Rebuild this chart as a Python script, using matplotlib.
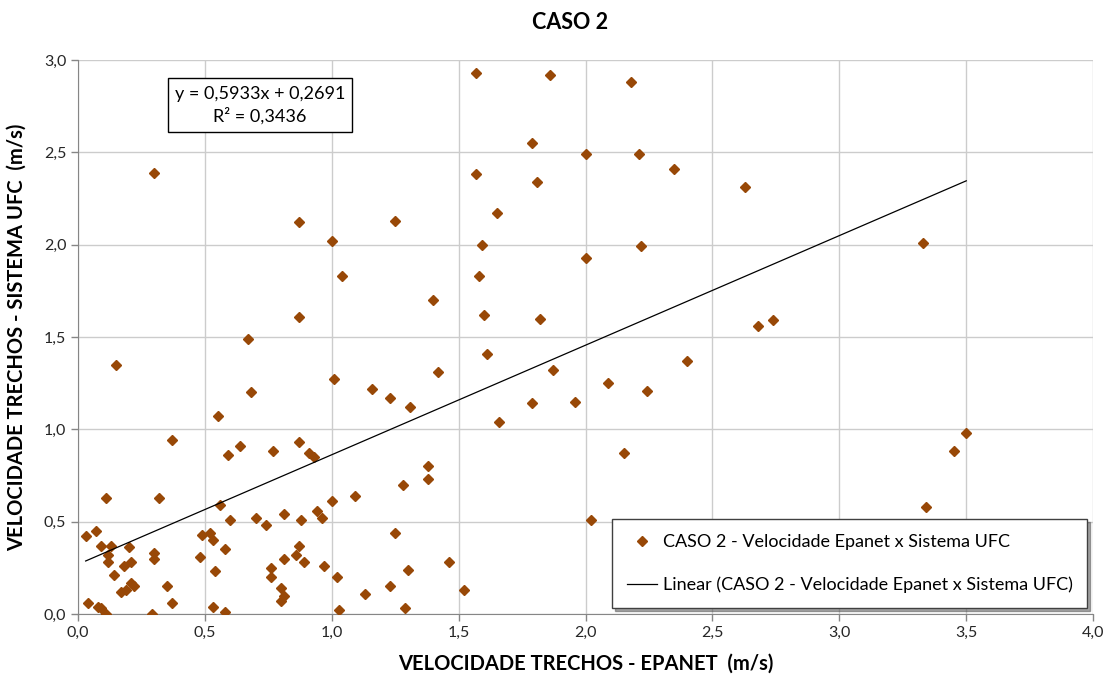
import numpy as np
import matplotlib
matplotlib.use("Agg")
import matplotlib.pyplot as plt

# velocidades (m/s)
epanet = [0.03, 0.04, 0.07, 0.08, 0.09, 0.09, 0.11, 0.11, 0.12, 0.12,
          0.13, 0.14, 0.15, 0.17, 0.18, 0.19, 0.20, 0.21, 0.21, 0.22,
          0.29, 0.30, 0.30, 0.30, 0.32, 0.35, 0.37, 0.37, 0.48, 0.49,
          0.52, 0.53, 0.53, 0.54, 0.55, 0.56, 0.58, 0.58, 0.59, 0.60,
          0.64, 0.67, 0.68, 0.70, 0.74, 0.76, 0.76, 0.77, 0.80, 0.81,
          0.80, 0.81, 0.81, 0.86, 0.87, 0.87, 0.87, 0.87, 0.88, 0.89,
          0.91, 0.93, 0.94, 0.96, 0.97, 1.00, 1.00, 1.01, 1.02, 1.03,
          1.04, 1.09, 1.13, 1.16, 1.23, 1.23, 1.25, 1.25, 1.28, 1.29,
          1.30, 1.31, 1.38, 1.38, 1.40, 1.42, 1.46, 1.52, 1.57, 1.57,
          1.58, 1.59, 1.60, 1.61, 1.65, 1.66, 1.79, 1.79, 1.81, 1.82,
          1.86, 1.87, 1.96, 2.00, 2.00, 2.02, 2.09, 2.15, 2.18, 2.21,
          2.22, 2.24, 2.35, 2.40, 2.63, 2.68, 2.74, 3.33, 3.34, 3.45,
          3.50]
ufc = [0.42, 0.06, 0.45, 0.04, 0.37, 0.03, 0.00, 0.63, 0.32, 0.28,
       0.37, 0.21, 1.35, 0.12, 0.26, 0.13, 0.36, 0.28, 0.17, 0.15,
       0.00, 0.33, 0.30, 2.39, 0.63, 0.15, 0.06, 0.94, 0.31, 0.43,
       0.44, 0.04, 0.40, 0.23, 1.07, 0.59, 0.35, 0.01, 0.86, 0.51,
       0.91, 1.49, 1.20, 0.52, 0.48, 0.25, 0.20, 0.88, 0.14, 0.10,
       0.07, 0.30, 0.54, 0.32, 0.37, 0.93, 1.61, 2.12, 0.51, 0.28,
       0.87, 0.85, 0.56, 0.52, 0.26, 0.61, 2.02, 1.27, 0.20, 0.02,
       1.83, 0.64, 0.11, 1.22, 0.15, 1.17, 0.44, 2.13, 0.70, 0.03,
       0.24, 1.12, 0.80, 0.73, 1.70, 1.31, 0.28, 0.13, 2.93, 2.38,
       1.83, 2.00, 1.62, 1.41, 2.17, 1.04, 2.55, 1.14, 2.34, 1.60,
       2.92, 1.32, 1.15, 2.49, 1.93, 0.51, 1.25, 0.87, 2.88, 2.49,
       1.99, 1.21, 2.41, 1.37, 2.31, 1.56, 1.59, 2.01, 0.58, 0.88,
       0.98]

# linha de tendencia informada no grafico
slope = 0.5933
intercept = 0.2691
r2 = 0.3436

plt.rcParams['font.family'] = ['Lato', 'DejaVu Sans']

fig = plt.figure(figsize=(11.07, 6.8), dpi=100)
ax = fig.add_axes([0.0705, 0.0971, 0.917, 0.8147])

ax.grid(True, color='#CCCCCC', linewidth=1)
ax.set_axisbelow(True)

ax.plot(epanet, ufc, 'D', color='#984807', markersize=5.5, linestyle='none',
        label='CASO 2 - Velocidade Epanet x Sistema UFC', zorder=3)

xl = np.array([min(epanet), max(epanet)])
ax.plot(xl, slope * xl + intercept, color='black', linewidth=0.9,
        label='Linear (CASO 2 - Velocidade Epanet x Sistema UFC)', zorder=4)

ax.set_xlim(0, 4.0)
ax.set_ylim(0, 3.0)
ticks_x = np.arange(0, 4.01, 0.5)
ticks_y = np.arange(0, 3.01, 0.5)
ax.set_xticks(ticks_x)
ax.set_yticks(ticks_y)
ax.set_xticklabels([f'{t:.1f}'.replace('.', ',') for t in ticks_x])
ax.set_yticklabels([f'{t:.1f}'.replace('.', ',') for t in ticks_y])
ax.tick_params(labelsize=11.5, colors='#868686', labelcolor='#262626', length=5, width=1)

for s in ['top', 'right']:
    ax.spines[s].set_visible(False)
for s in ['left', 'bottom']:
    ax.spines[s].set_color('#868686')

fig.text(0.515, 0.967, 'CASO 2', fontsize=15.5, fontweight='bold', ha='center', va='center')
ax.set_xlabel('VELOCIDADE TRECHOS - EPANET  (m/s)', fontsize=14.5, fontweight='bold', labelpad=10)
ax.set_ylabel('VELOCIDADE TRECHOS - SISTEMA UFC  (m/s)', fontsize=14.5, fontweight='bold', labelpad=12)

eq = f'y = {slope:.4f}x + {intercept:.4f}\nR² = {r2:.4f}'.replace('.', ',')
ax.text(0.717, 2.755, eq, fontsize=13, ha='center', va='center', linespacing=1.4,
        bbox=dict(boxstyle='square,pad=0.4', facecolor='white', edgecolor='black', linewidth=1))

leg = ax.legend(loc='lower right', bbox_to_anchor=(0.982, 0.106), bbox_transform=fig.transFigure,
                borderaxespad=0, fontsize=13, fancybox=False, shadow=True, edgecolor='#404040',
                handlelength=1.7, handletextpad=0.3, labelspacing=1.5, borderpad=0.8)
leg.get_frame().set_linewidth(1)

fig.savefig('out.png', dpi=100)
